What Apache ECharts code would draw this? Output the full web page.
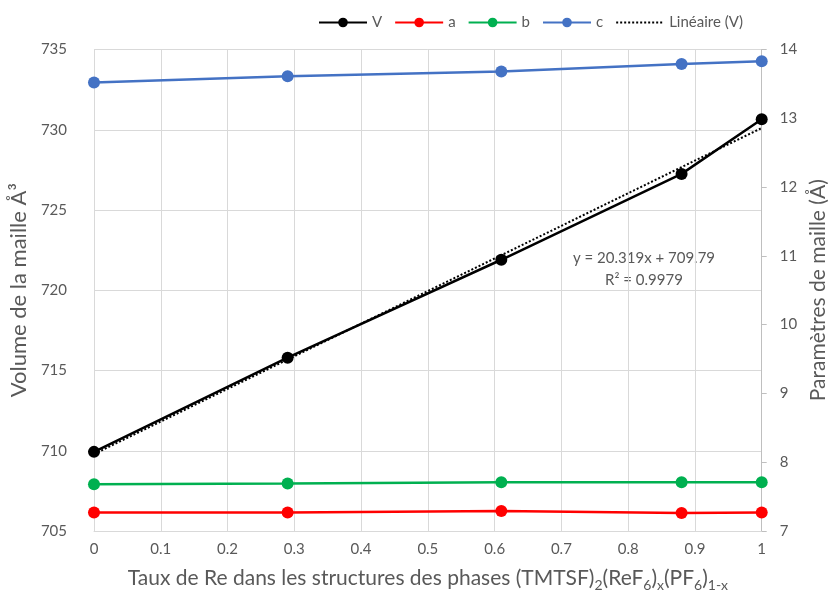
<!DOCTYPE html>
<html>
<head>
<meta charset="utf-8">
<script src="https://cdn.jsdelivr.net/npm/echarts@6/dist/echarts.min.js"></script>
<style>html,body{margin:0;padding:0;background:#fff}#c{width:837px;height:599px}</style>
</head>
<body>
<div id="c"></div>
<script>
// Data
const xRe = [0, 0.29, 0.61, 0.88, 1];
const volV = [709.93, 715.8, 721.9, 727.25, 730.65];
const paramA = [7.27, 7.27, 7.29, 7.26, 7.27];
const paramB = [7.68, 7.69, 7.71, 7.71, 7.71];
const paramC = [13.52, 13.61, 13.68, 13.79, 13.83];
// Linear trendline of V (as given by the chart's equation)
const trendX = [0, 1];
const trendY = [709.79, 730.109];
const eqLine1 = 'y = 20.319x + 709.79';
const eqLine2 = 'R² = 0.9979';

const pairs = (xs, ys) => xs.map((x, i) => [x, ys[i]]);
const FONT = 'Lato';
const GRAY = '#595959';

const chart = echarts.init(document.getElementById('c'), null, {renderer: 'canvas'});
const mk = (name, ys, color, axis) => ({
  name, type: 'line', yAxisIndex: axis, data: pairs(xRe, ys),
  symbol: 'circle', symbolSize: 12, color,
  lineStyle: {color, width: 2.5}, itemStyle: {color}, z: 3
});
chart.setOption({
  animation: false,
  textStyle: {fontFamily: FONT},
  grid: {left: 91, right: 67, top: 49.5, bottom: 68},
  legend: {
    left: 313, top: 10, itemWidth: 48, itemHeight: 12, itemGap: 12,
    textStyle: {color: GRAY, fontSize: 15, fontFamily: FONT},
    data: ['V', 'a', 'b', 'c', {name: 'Linéaire (V)', itemStyle: {opacity: 0}}]
  },
  xAxis: {
    type: 'value', min: 0, max: 1, interval: 0.1,
    axisLine: {show: true, lineStyle: {color: '#d9d9d9'}},
    axisTick: {show: false},
    splitLine: {show: true, lineStyle: {color: '#d9d9d9', width: 1}},
    axisLabel: {color: GRAY, fontSize: 15, margin: 11, fontFamily: FONT},
    name: '{n|Taux de Re dans les structures des phases (TMTSF)}{s|2}{n|(ReF}{s|6}{n|)}{s|x}{n|(PF}{s|6}{n|)}{s|1-x}',
    nameLocation: 'middle', nameGap: 37,
    nameTextStyle: {
      color: GRAY,
      rich: {
        n: {fontSize: 21, fontFamily: FONT, color: GRAY, verticalAlign: 'top', lineHeight: 24},
        s: {fontSize: 14, fontFamily: FONT, color: GRAY, verticalAlign: 'top', lineHeight: 16, padding: [10, 0, 0, 0]}
      }
    }
  },
  yAxis: [{
    type: 'value', min: 705, max: 735, interval: 5, position: 'left',
    axisLine: {show: false}, axisTick: {show: false},
    splitLine: {show: true, lineStyle: {color: '#d9d9d9', width: 1}},
    axisLabel: {color: GRAY, fontSize: 15, margin: 27, fontFamily: FONT},
    name: 'Volume de la maille Å³', nameLocation: 'middle', nameGap: 53, nameRotate: 90,
    nameTextStyle: {color: GRAY, fontSize: 22, fontFamily: FONT}
  }, {
    type: 'value', min: 7, max: 14, interval: 1, position: 'right',
    axisLine: {show: true, lineStyle: {color: '#bfbfbf'}},
    axisTick: {show: true, length: 5, lineStyle: {color: '#bfbfbf'}},
    splitLine: {show: false},
    axisLabel: {color: GRAY, fontSize: 15, margin: 18, fontFamily: FONT},
    name: 'Paramètres de maille (Å)', nameLocation: 'middle', nameGap: 43, nameRotate: 90,
    nameTextStyle: {color: GRAY, fontSize: 21, fontFamily: FONT}
  }],
  series: [
    mk('V', volV, '#000000', 0),
    mk('a', paramA, '#ff0000', 1),
    mk('b', paramB, '#00b050', 1),
    mk('c', paramC, '#4472c4', 1),
    {
      name: 'Linéaire (V)', type: 'line', yAxisIndex: 0, data: pairs(trendX, trendY),
      symbol: 'none', color: '#000000', z: 4,
      lineStyle: {color: '#000000', width: 2, type: [2, 2]}
    }
  ],
  graphic: [
    {type: 'text', left: 573, top: 251, style: {text: eqLine1, fill: GRAY, font: '15px Lato'}},
    {type: 'text', left: 605, top: 273, style: {text: eqLine2, fill: GRAY, font: '15px Lato'}}
  ]
});
</script>
</body>
</html>
